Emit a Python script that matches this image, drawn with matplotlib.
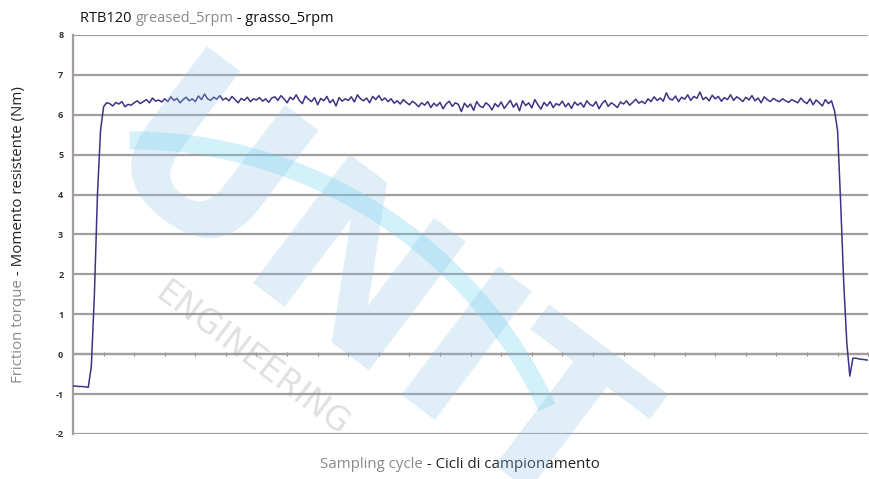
import numpy as np
import matplotlib
matplotlib.use("Agg")
import matplotlib.pyplot as plt
from matplotlib.patches import Arc

plt.rcParams['font.family'] = ['Open Sans', 'DejaVu Sans']

# friction torque readings (Nm), one per sampling cycle
start = [-0.80, -0.80, -0.81, -0.81, -0.82, -0.83,
         -0.30, 1.50, 4.00, 5.60, 6.20]
plateau = [6.30, 6.28, 6.22, 6.31, 6.27, 6.33, 6.20, 6.26, 6.24,
           6.30, 6.35, 6.28, 6.33, 6.38, 6.30, 6.42, 6.34, 6.37, 6.32,
           6.40, 6.33, 6.45, 6.36, 6.41, 6.30, 6.38, 6.44, 6.35, 6.40,
           6.33, 6.47, 6.38, 6.52, 6.40, 6.36, 6.44, 6.39, 6.48, 6.37,
           6.42, 6.35, 6.46, 6.38, 6.30, 6.41, 6.36, 6.44, 6.33, 6.40,
           6.37, 6.43, 6.34, 6.40, 6.31, 6.42, 6.45, 6.36, 6.48, 6.40,
           6.30, 6.44, 6.38, 6.50, 6.36, 6.28, 6.47, 6.39, 6.33, 6.43,
           6.25, 6.41, 6.35, 6.46, 6.30, 6.38, 6.22, 6.43, 6.34, 6.40,
           6.36, 6.45, 6.32, 6.50, 6.40, 6.35, 6.42, 6.30, 6.46, 6.38,
           6.48, 6.36, 6.42, 6.33, 6.40, 6.29, 6.35, 6.27, 6.38, 6.31,
           6.25, 6.34, 6.28, 6.20, 6.30, 6.24, 6.33, 6.18, 6.29, 6.22,
           6.31, 6.15, 6.27, 6.34, 6.21, 6.30, 6.26, 6.08, 6.29, 6.19,
           6.27, 6.11, 6.33, 6.22, 6.18, 6.30, 6.24, 6.12, 6.28, 6.20,
           6.32, 6.16, 6.26, 6.36, 6.19, 6.29, 6.10, 6.35, 6.23, 6.30,
           6.17, 6.38, 6.25, 6.14, 6.31, 6.22, 6.33, 6.18, 6.28, 6.24,
           6.34, 6.20, 6.29, 6.16, 6.32, 6.24, 6.30, 6.19, 6.35, 6.26,
           6.22, 6.33, 6.15, 6.28, 6.36, 6.21, 6.30, 6.25, 6.18, 6.32,
           6.27, 6.35, 6.24, 6.31, 6.39, 6.29, 6.34, 6.28, 6.40, 6.33,
           6.45, 6.36, 6.42, 6.34, 6.55, 6.40, 6.37, 6.47, 6.33, 6.44,
           6.39, 6.50, 6.36, 6.46, 6.41, 6.57, 6.38, 6.44, 6.35, 6.49,
           6.40, 6.46, 6.34, 6.43, 6.38, 6.50, 6.36, 6.45, 6.40, 6.33,
           6.44, 6.37, 6.48, 6.35, 6.42, 6.30, 6.45, 6.38, 6.33, 6.41,
           6.36, 6.33, 6.40, 6.35, 6.31, 6.38, 6.34, 6.30, 6.42, 6.33,
           6.28, 6.40, 6.25, 6.37, 6.30, 6.22, 6.38, 6.28, 6.35]
stop = [6.10, 5.60, 3.80, 1.80, 0.30, -0.55,
        -0.10, -0.10, -0.12, -0.13, -0.14, -0.15]

torque = np.array(start + plateau + stop)
cycle = np.arange(len(torque))
yticks = [-2, -1, 0, 1, 2, 3, 4, 5, 6, 7, 8]

fig = plt.figure(figsize=(8.7, 4.79), dpi=100)
ax = fig.add_axes([0.0839, 0.094, 0.914, 0.833])

ax.set_ylim(-2, 8)
ax.set_xlim(0, len(torque) - 1)
ax.set_yticks(yticks)
ax.set_yticklabels([str(t) for t in yticks], fontsize=6.5, fontweight='bold', color='#333333')
ax.tick_params(axis='y', length=0, pad=7)
for t in yticks:
    ax.axhline(t, color='#a39d9d', lw=1.6, zorder=1)

# category axis crossing at zero
ax.spines['bottom'].set_position(('data', 0))
ax.spines['bottom'].set_color('#a39d9d')
ax.spines['bottom'].set_linewidth(1.6)
ax.set_xticks(np.arange(0, len(torque), 10))
ax.tick_params(axis='x', direction='inout', length=3, color='#8a8585', labelbottom=False)
for s in ['top', 'right']:
    ax.spines[s].set_visible(False)
ax.spines['left'].set_color('#a39d9d')
ax.spines['left'].set_linewidth(1.6)

ax.plot(cycle, torque, color='#3b3384', lw=1.1, zorder=3)

# watermark
fig.text(0.42, 0.36, 'UNIT', fontsize=160, fontweight='bold', color='#8fc3e6', alpha=0.28,
         rotation=-37, ha='center', va='center', family='DejaVu Sans', zorder=0)
fig.text(0.29, 0.25, 'ENGINEERING', fontsize=24, color='#9a9a9a', alpha=0.3,
         rotation=-37, ha='center', va='center', family='DejaVu Sans', zorder=0)
arc = Arc((0.149, -0.253), 1.057, 1.92, angle=0, theta1=40, theta2=90,
          transform=fig.transFigure, color='#6fd3f2', lw=13, alpha=0.3)
fig.add_artist(arc)

# title
t1 = fig.text(0.092, 0.955, 'RTB120 ', fontsize=10.5, color='#111111', va='baseline')
t2 = ax.annotate('greased_5rpm', xy=(1, 0), xycoords=t1, fontsize=10.5, color='#8a8a8a', va='bottom')
ax.annotate(' - grasso_5rpm', xy=(1, 0), xycoords=t2, fontsize=10.5, color='#111111', va='bottom')

# x label
x1 = fig.text(0.368, 0.022, 'Sampling cycle', fontsize=10.8, color='#8a8a8a', va='baseline')
ax.annotate(' - Cicli di campionamento', xy=(1, 0), xycoords=x1, fontsize=10.8, color='#222222', va='bottom')

# y label
y1 = fig.text(0.013, 0.2, 'Friction torque', fontsize=10.8, color='#8a8a8a', rotation=90,
              ha='left', va='bottom')
ax.annotate(' - Momento resistente (Nm)', xy=(0, 1), xycoords=y1, fontsize=10.8, color='#222222',
            rotation=90, ha='left', va='bottom')

fig.savefig('out.png', dpi=100)
